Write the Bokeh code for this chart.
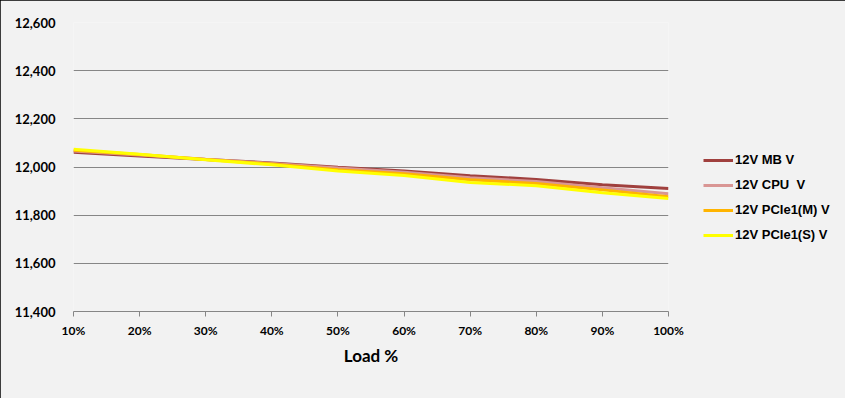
from bokeh.plotting import figure
from bokeh.models import Legend, LegendItem, FixedTicker, NumeralTickFormatter
from bokeh.embed import file_html
from bokeh.resources import INLINE

loads = [10, 20, 30, 40, 50, 60, 70, 80, 90, 100]
load_labels = ["10%", "20%", "30%", "40%", "50%", "60%", "70%", "80%", "90%", "100%"]
mb_v = [12061, 12046, 12031, 12017, 11999, 11983, 11964, 11948, 11926, 11911]
cpu_v = [12066, 12050, 12032, 12015, 11996, 11978, 11955, 11940, 11914, 11889]
pcie_m_v = [12070, 12052, 12031, 12012, 11989, 11972, 11947, 11931, 11905, 11877]
pcie_s_v = [12074, 12053, 12030, 12009, 11983, 11965, 11936, 11922, 11893, 11869]
y_ticks = [11400, 11600, 11800, 12000, 12200, 12400, 12600]

series = [
    ("12V MB V", mb_v, "#A0403E"),
    ("12V CPU  V", cpu_v, "#D99694"),
    ("12V PCIe1(M) V", pcie_m_v, "#FFB400"),
    ("12V PCIe1(S) V", pcie_s_v, "#FFFF00"),
]

BG = "#f2f2f2"
p = figure(frame_width=595, frame_height=289, output_backend="svg", toolbar_location=None,
           x_range=(10, 100), y_range=(11400, 12600),
           min_border_left=73, min_border_right=177, min_border_top=22, min_border_bottom=87)
p.background_fill_color = BG
p.border_fill_color = BG
p.outline_line_color = None
p.styles = {"outline": "2px solid black", "outline-offset": "-2px"}

items = []
for name, vals, col in series:
    r = p.line(loads, vals, line_color=col, line_width=3)
    items.append(LegendItem(label=name, renderers=[r]))

# grid
p.xgrid.grid_line_color = None
p.ygrid.grid_line_color = "#868686"
p.ygrid.grid_line_width = 1
p.ygrid.ticker = FixedTicker(ticks=y_ticks)

# y axis
p.yaxis.ticker = FixedTicker(ticks=y_ticks)
p.yaxis.formatter = NumeralTickFormatter(format="0,0")
p.yaxis.axis_line_color = None
p.yaxis.major_tick_line_color = None
p.yaxis.minor_tick_line_color = None
p.yaxis.major_label_standoff = 12
p.yaxis.major_label_text_font = "Lato"
p.yaxis.major_label_text_font_style = "bold"
p.yaxis.major_label_text_font_size = "13px"
p.yaxis.major_label_text_color = "#000000"

# x axis
p.xaxis.ticker = FixedTicker(ticks=loads)
p.xaxis.major_label_overrides = {l: s for l, s in zip(loads, load_labels)}
p.xaxis.axis_line_color = "#868686"
p.xaxis.major_tick_line_color = "#868686"
p.xaxis.major_tick_out = 5
p.xaxis.major_tick_in = 0
p.xaxis.minor_tick_line_color = None
p.xaxis.major_label_standoff = 6
p.xaxis.major_label_text_font = "Lato"
p.xaxis.major_label_text_font_style = "bold"
p.xaxis.major_label_text_font_size = "12px"
p.xaxis.major_label_text_color = "#000000"
p.xaxis.axis_label = "Load %"
p.xaxis.axis_label_text_font = "Lato"
p.xaxis.axis_label_text_font_style = "bold"
p.xaxis.axis_label_text_font_size = "17px"
p.xaxis.axis_label_text_color = "#000000"
p.xaxis.axis_label_standoff = 4

legend = Legend(items=items, location=(35, 69), orientation="vertical")
legend.background_fill_alpha = 0
legend.border_line_color = None
legend.padding = 0
legend.margin = 0
legend.spacing = 10
legend.glyph_width = 30
legend.glyph_height = 14
legend.label_height = 14
legend.label_standoff = 2
legend.label_text_font = "Liberation Sans"
legend.label_text_font_style = "bold"
legend.label_text_font_size = "13px"
legend.label_text_color = "#000000"
p.add_layout(legend, "right")

open("out.html", "w").write(file_html(p, INLINE))
